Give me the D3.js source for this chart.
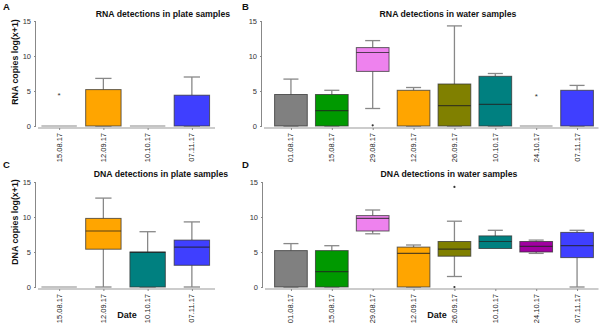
<!DOCTYPE html>
<html>
<head>
<meta charset="utf-8">
<script src="https://cdn.jsdelivr.net/npm/d3@7"></script>
<style>
  body { margin: 0; background: #fff; }
  svg { display: block; font-family: "Liberation Sans", Arial, sans-serif; }
</style>
</head>
<body>
<div id="vis"></div>
<script>
// Four box-plot panels: RNA / DNA detections in plate and water samples.

const PLATE_DATES = ["15.08.17", "12.09.17", "10.10.17", "07.11.17"];
const WATER_DATES = ["01.08.17", "15.08.17", "29.08.17", "12.09.17", "26.09.17", "10.10.17", "24.10.17", "07.11.17"];

const Y_TICKS = [0, 5, 10, 15];

// box stats per date: [lo, q1, med, q3, hi]
const RNA_PLATE = [
  [0, 0, 0, 0, 0],
  [0, 0, 0, 5.2, 6.8],
  [0, 0, 0, 0, 0],
  [0, 0, 0, 4.4, 7.0],
];
const RNA_PLATE_COLORS = ["#808080", "#ffa500", "#008080", "#3f3fff"];

const RNA_WATER = [
  [0, 0, 0, 4.5, 6.7],
  [0, 0, 2.2, 4.5, 5.1],
  [2.5, 7.8, 10.5, 11.2, 12.2],
  [0, 0, 0, 5.1, 5.5],
  [0, 0, 2.9, 6.0, 14.3],
  [0, 0, 3.1, 7.1, 7.5],
  [0, 0, 0, 0, 0],
  [0, 0, 0, 5.1, 5.8],
];

const DNA_PLATE = [
  [0, 0, 0, 0, 0],
  [0, 5.4, 8.0, 9.8, 12.7],
  [0, 0, 4.95, 5.0, 7.9],
  [0, 3.1, 5.7, 6.7, 9.3],
];

const DNA_WATER = [
  [0, 0, 0, 5.2, 6.2],
  [0, 0, 2.2, 5.2, 5.9],
  [7.6, 8.0, 9.8, 10.2, 11.0],
  [0, 0, 4.8, 5.7, 6.0],
  [1.5, 4.4, 5.4, 6.5, 9.4],
  [5.5, 5.5, 6.5, 7.3, 8.1],
  [4.8, 5.0, 5.8, 6.5, 6.7],
  [0, 4.2, 5.9, 7.8, 8.1],
];

const WATER_COLORS = ["#808080", "#009900", "#ee82ee", "#ffa500", "#808000", "#008080", "#a000a0", "#3f3fff"];

// outliers: [date, value, kind]
const RNA_PLATE_OUT = [["15.08.17", 4.5, "star"]];
const RNA_WATER_OUT = [["29.08.17", 0.1, "dot"], ["24.10.17", 4.4, "star"]];
const DNA_PLATE_OUT = [];
const DNA_WATER_OUT = [["26.09.17", 14.3, "dot"], ["26.09.17", 0, "dot"]];

const PANELS = [
  { letter: "A", title: "RNA detections in plate samples", dates: PLATE_DATES, stats: RNA_PLATE, colors: RNA_PLATE_COLORS, out: RNA_PLATE_OUT,
    axisX: 36, x0: 37, x1: 214, y0: 126, titleX: 163, titleY: 17, letterX: 3, letterY: 10, ylabel: "RNA copies log(x+1)", ylabelY: 62 },
  { letter: "B", title: "RNA detections in water samples", dates: WATER_DATES, stats: RNA_WATER, colors: WATER_COLORS, out: RNA_WATER_OUT,
    axisX: 262, x0: 270.5, x1: 597.5, y0: 126, titleX: 448, titleY: 17, letterX: 242, letterY: 10 },
  { letter: "C", title: "DNA detections in plate samples", dates: PLATE_DATES, stats: DNA_PLATE, colors: RNA_PLATE_COLORS, out: DNA_PLATE_OUT,
    axisX: 36, x0: 37, x1: 214, y0: 287, titleX: 161, titleY: 177, letterX: 3, letterY: 168, ylabel: "DNA copies log(x+1)", ylabelY: 222, xlabel: "Date", xlabelX: 127 },
  { letter: "D", title: "DNA detections in water samples", dates: WATER_DATES, stats: DNA_WATER, colors: WATER_COLORS, out: DNA_WATER_OUT,
    axisX: 263, x0: 270.5, x1: 597.5, y0: 287, titleX: 449, titleY: 177, letterX: 242, letterY: 168, xlabel: "Date", xlabelX: 437 },
];

const svg = d3.select("#vis").append("svg")
  .attr("width", 600)
  .attr("height", 328);

PANELS.forEach(drawPanel);

function drawPanel(p) {
  const g = svg.append("g");

  const x = d3.scalePoint()
    .domain(p.dates)
    .range([p.x0, p.x1])
    .padding(0.5);

  const y = d3.scaleLinear()
    .domain([0, 15])
    .range([p.y0, p.y0 - 105]);

  const boxW = x.step() * 0.8;
  const capW = boxW * 0.46;

  // ── Axes ──────────────────────────────────────────────────────────────
  g.append("g")
    .attr("transform", `translate(${p.axisX},0)`)
    .call(d3.axisLeft(y).tickValues(Y_TICKS).tickSize(2).tickPadding(3))
    .call(ax => ax.select(".domain").attr("stroke", "#888").attr("d", `M-0.5,${y(0)}V${y(15)}`))
    .call(ax => ax.selectAll(".tick line").attr("stroke", "#888"))
    .selectAll("text")
      .style("font-size", "7.5px")
      .style("fill", "#333")
      .style("font-family", "Liberation Sans, Arial, sans-serif");

  const baseY = p.y0 + 2;
  g.append("g")
    .attr("transform", `translate(0,${baseY})`)
    .call(d3.axisBottom(x).tickSize(2).tickPadding(2))
    .call(ax => ax.select(".domain").attr("stroke", "#999").attr("stroke-width", 1.2)
      .attr("d", `M${p.axisX + 2},0H${p.x1 + 1}`))
    .call(ax => ax.selectAll(".tick line").attr("stroke", "#888"))
    .selectAll("text")
      .attr("transform", "rotate(-90)")
      .attr("text-anchor", "end")
      .attr("dominant-baseline", "middle")
      .attr("x", -5)
      .attr("y", 0)
      .attr("dy", null)
      .style("font-size", "7.5px")
      .style("fill", "#222")
      .style("font-family", "Liberation Sans, Arial, sans-serif");

  // ── Boxes ─────────────────────────────────────────────────────────────
  p.dates.forEach((d, i) => {
    const [lo, q1, med, q3, hi] = p.stats[i];
    const cx = x(d);
    const color = p.colors[i];

    if (q3 === 0 && hi === 0) {
      g.append("rect")
        .attr("x", cx - boxW / 2).attr("y", y(0) - 1)
        .attr("width", boxW).attr("height", 2)
        .attr("fill", "#c4c4c4");
      return;
    }

    const whisk = (a, b) => g.append("line")
      .attr("x1", cx).attr("x2", cx)
      .attr("y1", y(a)).attr("y2", y(b))
      .attr("stroke", "#888").attr("stroke-width", 1.3);
    const cap = v => g.append("line")
      .attr("x1", cx - capW / 2).attr("x2", cx + capW / 2)
      .attr("y1", y(v)).attr("y2", y(v))
      .attr("stroke", "#888").attr("stroke-width", 1.3);

    if (hi > q3) { whisk(q3, hi); cap(hi); }
    if (lo < q1) { whisk(lo, q1); cap(lo); }
    else if (q1 === 0) cap(0);

    g.append("rect")
      .attr("x", cx - boxW / 2)
      .attr("y", y(q3))
      .attr("width", boxW)
      .attr("height", y(q1) - y(q3))
      .attr("fill", color)
      .attr("stroke", "#333")
      .attr("stroke-opacity", 0.75)
      .attr("stroke-width", 1);

    if (med > 0) {
      g.append("line")
        .attr("x1", cx - boxW / 2).attr("x2", cx + boxW / 2)
        .attr("y1", y(med)).attr("y2", y(med))
        .attr("stroke", "#222").attr("stroke-opacity", 0.75).attr("stroke-width", 1.2);
    }
  });

  // ── Outliers ──────────────────────────────────────────────────────────
  p.out.forEach(([d, v, kind]) => {
    if (kind === "star") {
      g.append("text")
        .attr("x", x(d)).attr("y", y(v) + 3.5)
        .attr("text-anchor", "middle")
        .style("font-size", "8px")
        .style("fill", "#333")
        .text("*");
    } else {
      g.append("circle")
        .attr("cx", x(d)).attr("cy", y(v))
        .attr("r", 1.1)
        .attr("fill", "#333");
    }
  });

  // ── Labels ────────────────────────────────────────────────────────────
  g.append("text")
    .attr("x", p.titleX).attr("y", p.titleY)
    .attr("text-anchor", "middle")
    .style("font-size", "8.7px")
    .style("font-weight", "bold")
    .style("fill", "#111")
    .text(p.title);

  g.append("text")
    .attr("x", p.letterX).attr("y", p.letterY)
    .style("font-size", "9.5px")
    .style("font-weight", "bold")
    .style("fill", "#111")
    .text(p.letter);

  if (p.ylabel) {
    g.append("text")
      .attr("transform", `translate(18,${p.ylabelY}) rotate(-90)`)
      .attr("text-anchor", "middle")
      .style("font-size", "8.8px")
      .style("font-weight", "bold")
      .style("fill", "#111")
      .text(p.ylabel);
  }

  if (p.xlabel) {
    g.append("text")
      .attr("x", p.xlabelX).attr("y", 318)
      .attr("text-anchor", "middle")
      .style("font-size", "9px")
      .style("font-weight", "bold")
      .style("fill", "#111")
      .text(p.xlabel);
  }
}
</script>
</body>
</html>
